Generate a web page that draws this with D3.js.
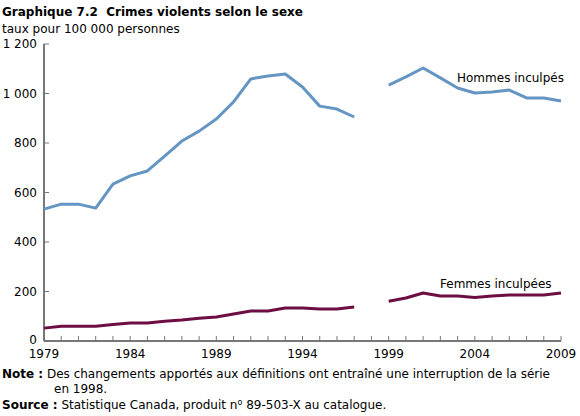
<!DOCTYPE html>
<html><head><meta charset="utf-8">
<script src="https://cdn.jsdelivr.net/npm/d3@7"></script>
<style>body{margin:0;background:#fff}svg{font-family:"DejaVu Sans",Verdana,sans-serif}</style>
</head><body><svg id="c" width="580" height="416"></svg>
<script>
const years = [1979,1980,1981,1982,1983,1984,1985,1986,1987,1988,1989,1990,1991,1992,1993,1994,1995,1996,1997,1998,1999,2000,2001,2002,2003,2004,2005,2006,2007,2008,2009];
const hommes = [533,553,553,537,634,667,687,747,808,848,897,966,1059,1071,1079,1026,949,937,905,null,1034,1067,1103,1063,1022,1002,1006,1014,982,982,970];
const femmes = [52,60,60,60,67,73,73,80,85,92,97,109,121,121,133,133,129,129,137,null,161,174,194,182,182,176,182,186,186,186,194];
const yTicks = [0,200,400,600,800,1000,1200];
const xTickLabels = [1979,1984,1989,1994,1999,2004,2009];

const svg = d3.select("#c");
const x = d3.scaleLinear().domain([1979,2009]).range([44,561]);
const y = d3.scaleLinear().domain([0,1200]).range([341,44]);
const fmt = v => d3.format(",")(v).replace(/,/g," ");
const axisCol = "#777";

// y axis
svg.append("line").attr("x1",44).attr("x2",44).attr("y1",y(1200)).attr("y2",y(0)).attr("stroke",axisCol).attr("stroke-width",2);
svg.selectAll(".yt").data(yTicks).enter().append("line")
  .attr("x1",44).attr("x2",49).attr("y1",d=>y(d)).attr("y2",d=>y(d)).attr("stroke",axisCol).attr("stroke-width",1);
svg.selectAll(".yl").data(yTicks).enter().append("text")
  .attr("x",37).attr("y",d=>y(d)+(d===0?3:4)).attr("text-anchor","end").attr("font-size",12).text(d=>fmt(d));

// x axis
svg.append("line").attr("x1",44).attr("x2",561).attr("y1",y(0)).attr("y2",y(0)).attr("stroke",axisCol).attr("stroke-width",2);
svg.selectAll(".xt").data(years).enter().append("line")
  .attr("x1",d=>x(d)).attr("x2",d=>x(d)).attr("y1",y(0)).attr("y2",y(0)-5).attr("stroke",axisCol).attr("stroke-width",1);
svg.selectAll(".xl").data(xTickLabels).enter().append("text")
  .attr("x",d=>x(d)).attr("y",358).attr("text-anchor","middle").attr("font-size",12).text(d=>d);

const line = d3.line().defined(d=>d[1]!==null).x(d=>x(d[0])).y(d=>y(d[1]));
svg.append("path").datum(years.map((yr,i)=>[yr,hommes[i]])).attr("d",line)
  .attr("fill","none").attr("stroke","#6595c3").attr("stroke-width",3).attr("stroke-linejoin","round");
svg.append("path").datum(years.map((yr,i)=>[yr,femmes[i]])).attr("d",line)
  .attr("fill","none").attr("stroke","#6d0e42").attr("stroke-width",3).attr("stroke-linejoin","round");

svg.append("text").attr("x",457).attr("y",82).attr("font-size",12).text("Hommes inculpés");
svg.append("text").attr("x",440).attr("y",288).attr("font-size",12).text("Femmes inculpées");

// titles
svg.append("text").attr("x",2).attr("y",16).attr("font-size",12).attr("font-weight","bold")
  .attr("xml:space","preserve").text("Graphique 7.2  Crimes violents selon le sexe");
svg.append("text").attr("x",2).attr("y",33).attr("font-size",12).text("taux pour 100 000 personnes");

// notes
const n1 = svg.append("text").attr("x",2).attr("y",378).attr("font-size",12);
n1.append("tspan").attr("font-weight","bold").text("Note :");
n1.append("tspan").text(" Des changements apportés aux définitions ont entraîné une interruption de la série");
svg.append("text").attr("x",54).attr("y",393).attr("font-size",12).text("en 1998.");
const n2 = svg.append("text").attr("x",2).attr("y",409).attr("font-size",12);
n2.append("tspan").attr("font-weight","bold").text("Source :");
n2.append("tspan").text(" Statistique Canada, produit n");
n2.append("tspan").attr("font-size",8).attr("dy",-4).text("o");
n2.append("tspan").attr("dy",4).text(" 89-503-X au catalogue.");
</script></body></html>
